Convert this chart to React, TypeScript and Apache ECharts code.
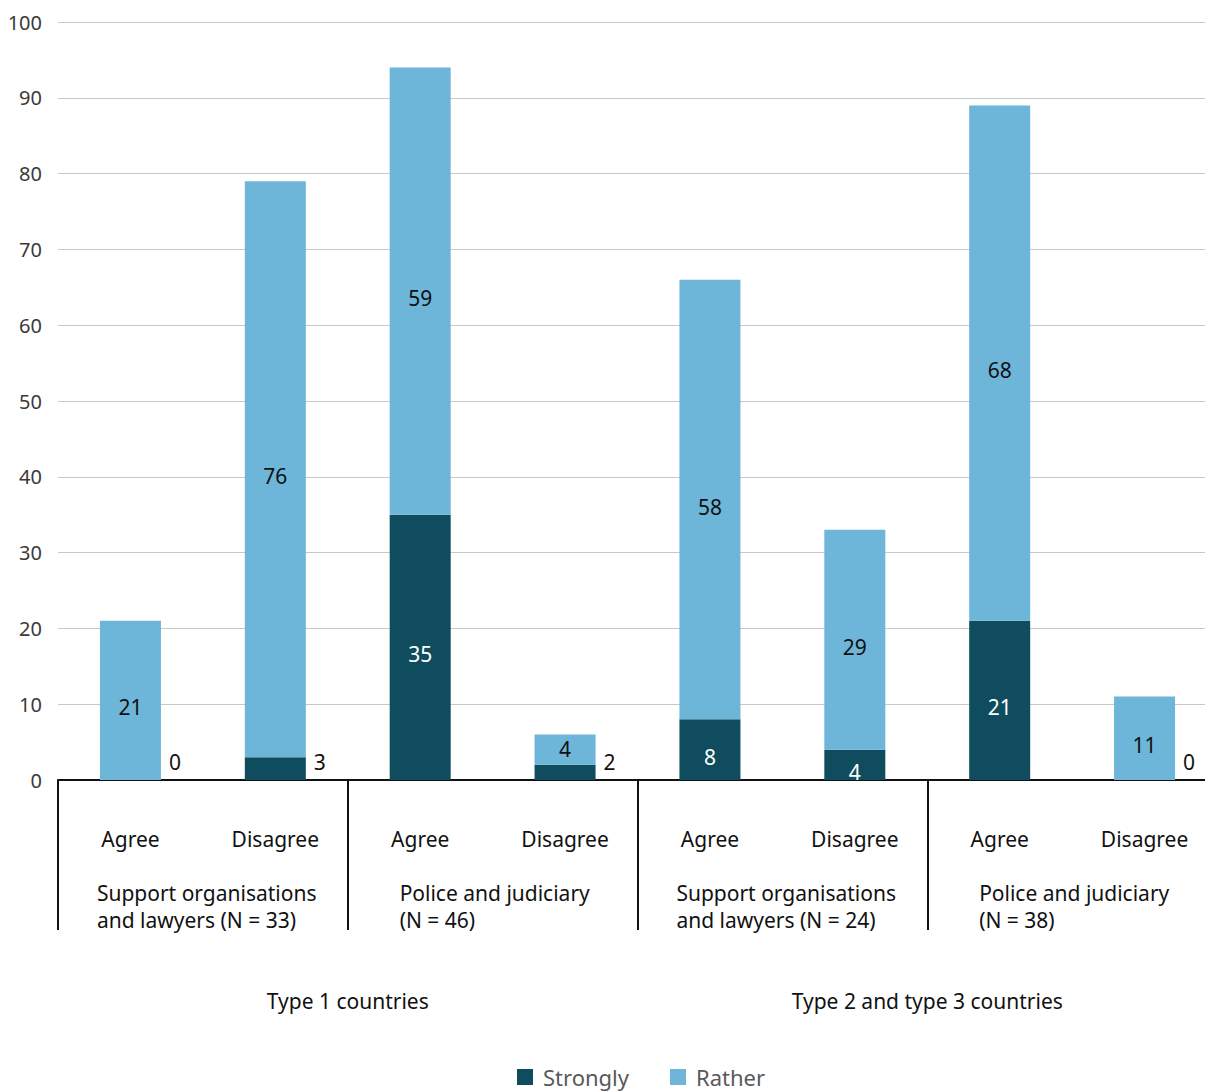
import React, { useEffect, useRef } from "react";
import * as echarts from "echarts";

const responses = ["Agree", "Disagree", "Agree", "Disagree", "Agree", "Disagree", "Agree", "Disagree"];
const groups = [
  "Support organisations\nand lawyers (N = 33)",
  "Police and judiciary\n(N = 46)",
  "Support organisations\nand lawyers (N = 24)",
  "Police and judiciary\n(N = 38)",
];
const countryTypes = ["Type 1 countries", "Type 2 and type 3 countries"];
const strongly = [0, 3, 35, 2, 8, 4, 21, 0];
const rather = [21, 76, 59, 4, 58, 29, 68, 11];
const yTicks = { min: 0, max: 100, interval: 10 };

const DARK = "#0f4c5d";
const LIGHT = "#6db6d9";
const FONT = "Noto Sans";

export default function App() {
  const ref = useRef<HTMLDivElement>(null);
  useEffect(() => {
    const chart = echarts.init(ref.current!, null, { renderer: "svg" });
    const stronglyData = strongly.map((v) => {
      if (v <= 3) {
        return {
          value: v,
          label: {
            show: true,
            position: ["100%", "100%"],
            align: "left",
            verticalAlign: "bottom",
            offset: [8, -8],
            color: "#111",
          },
        };
      }
      return { value: v };
    });
    const ratherData = rather.map((v) =>
      v <= 5 ? { value: v, label: { offset: [0, -1] } } : { value: v }
    );
    chart.setOption({
      animation: false,
      textStyle: { fontFamily: FONT },
      grid: { left: 58, top: 22, bottom: 311, right: 13, containLabel: false },
      legend: {
        left: 512,
        top: 1061,
        itemWidth: 16,
        itemHeight: 16,
        itemGap: 41,
        icon: "rect",
        textStyle: { fontSize: 22, color: "#595959", fontFamily: FONT, padding: [0, 0, 0, 5] },
        data: ["Strongly", "Rather"],
      },
      yAxis: {
        type: "value",
        min: yTicks.min,
        max: yTicks.max,
        interval: yTicks.interval,
        axisLine: { show: false },
        axisTick: { show: false },
        axisLabel: { fontSize: 20, color: "#3a3a3a", margin: 16 },
        splitLine: { lineStyle: { color: "#c8c8c8", width: 1 } },
      },
      xAxis: [
        {
          type: "category",
          data: responses,
          position: "bottom",
          axisLine: { lineStyle: { color: "#111", width: 2 } },
          axisTick: { show: false },
          axisLabel: { fontSize: 21, color: "#111", margin: 48, interval: 0 },
        },
        {
          type: "category",
          data: groups,
          position: "bottom",
          axisLine: { show: false },
          axisTick: { show: true, length: 150, interval: 0, lineStyle: { color: "#111", width: 2 } },
          axisLabel: {
            interval: 0,
            margin: 99,
            fontSize: 21,
            color: "#111",
            formatter: (v: string, i: number) => {
              const key = i % 2 === 0 ? "s" : "p";
              return v
                .split("\n")
                .map((l) => `{${key}|${l}}`)
                .join("\n");
            },
            rich: {
              s: { width: 222, align: "left", fontSize: 21, lineHeight: 27, color: "#111", padding: [0, 0, 0, 10] },
              p: { width: 196, align: "left", fontSize: 21, lineHeight: 27, color: "#111", padding: [0, 0, 0, 10] },
            },
          },
        },
        {
          type: "category",
          data: countryTypes,
          position: "bottom",
          axisLine: { show: false },
          axisTick: { show: false },
          axisLabel: { interval: 0, margin: 210, fontSize: 21, color: "#111" },
        },
      ],
      series: [
        {
          name: "Strongly",
          type: "bar",
          stack: "s",
          xAxisIndex: 0,
          barWidth: 61,
          itemStyle: { color: DARK },
          label: { show: true, position: "inside", color: "#fff", fontSize: 21, offset: [0, 7] },
          data: stronglyData,
        },
        {
          name: "Rather",
          type: "bar",
          stack: "s",
          xAxisIndex: 0,
          barWidth: 61,
          itemStyle: { color: LIGHT },
          label: { show: true, position: "inside", color: "#111", fontSize: 21, offset: [0, 7] },
          data: ratherData,
        },
      ],
    });
    return () => chart.dispose();
  }, []);
  return (
    <div style={{ position: "absolute", left: 0, top: 0, width: 1205, height: 1091, overflow: "hidden" }}>
      <div ref={ref} style={{ width: 1230, height: 1091 }} />
    </div>
  );
}
